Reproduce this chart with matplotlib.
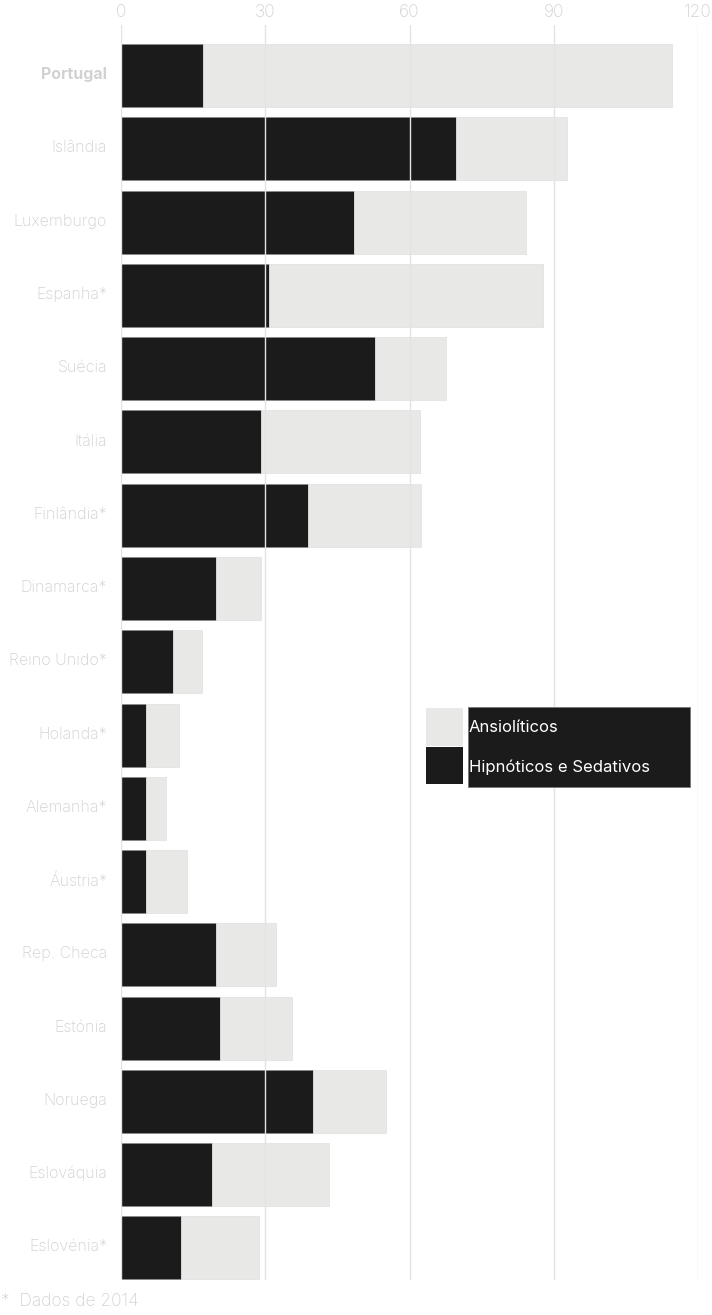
import matplotlib
matplotlib.use("Agg")
import matplotlib.pyplot as plt
from matplotlib.patches import Rectangle
from matplotlib.transforms import ScaledTranslation

countries = ["Portugal", "Islândia", "Luxemburgo", "Espanha*", "Suécia", "Itália",
             "Finlândia*", "Dinamarca*", "Reino Unido*", "Holanda*", "Alemanha*",
             "Áustria*", "Rep. Checa", "Estónia", "Noruega", "Eslováquia", "Eslovénia*"]
hipnoticos = [17.0, 69.6, 48.4, 30.8, 52.8, 29.1, 38.9, 19.8, 10.8, 5.2, 5.2, 5.2,
              19.8, 20.6, 39.9, 18.9, 12.5]
totais = [114.5, 92.7, 84.2, 87.7, 67.6, 62.2, 62.4, 29.1, 16.8, 12.1, 9.4, 13.7,
          32.2, 35.6, 55.1, 43.2, 28.7]
ansioliticos = [t - h for t, h in zip(totais, hipnoticos)]
xticks = [0, 30, 60, 90, 120]
legend_labels = ["Ansiolíticos", "Hipnóticos e Sedativos"]
footnote = "*  Dados de 2014"

BLACK = "#1b1b1b"
GREY = "#e8e8e6"
TXT = "#d2d2d2"
GRID = "#e3e3e3"

plt.rcParams["font.family"] = ["Inter", "DejaVu Sans"]

W, H = 712, 1315
fig = plt.figure(figsize=(W / 100, H / 100), dpi=100)
ax_left, ax_right = 121 / W, 698 / W
ax_top, ax_bot = 1 - 25 / H, 1 - 1280 / H
ax = fig.add_axes([ax_left, ax_bot, ax_right - ax_left, ax_top - ax_bot])

y = list(range(len(countries)))
bh = 0.86
ax.barh(y, hipnoticos, height=bh, color=BLACK, edgecolor="#8a8a8a", linewidth=0.6, zorder=2)
ax.barh(y, ansioliticos, left=hipnoticos, height=bh, color=GREY, edgecolor="#e0e0e0",
        linewidth=0.5, zorder=2)

ax.set_xlim(0, 120)
ax.set_ylim(16.437, -0.689)
for xv in xticks:
    ax.axvline(xv, color=GRID, linewidth=1.0, zorder=3)

ax.xaxis.tick_top()
ax.set_xticks(xticks)
ax.set_xticklabels([str(v) for v in xticks], fontsize=12.5, color=TXT, fontweight="light")
ax.tick_params(axis="x", length=0, pad=3)
ax.set_yticks(y)
ax.set_yticklabels(countries, fontsize=11.5, color=TXT, fontweight="light")
ax.tick_params(axis="y", length=0, pad=10)
shift = ScaledTranslation(0, 2.5 / 100, fig.dpi_scale_trans)
for lab in ax.get_yticklabels():
    lab.set_transform(lab.get_transform() + shift)
    if lab.get_text() == "Portugal":
        lab.set_fontweight("bold")
for s in ax.spines.values():
    s.set_visible(False)

# legend
def fx(px):
    return px / W
def fy(py):
    return 1 - py / H

fig.add_artist(Rectangle((fx(426), fy(746)), fx(37), 38 / H, transform=fig.transFigure,
                         facecolor=GREY, edgecolor="none"))
fig.add_artist(Rectangle((fx(426), fy(784)), fx(37), 37 / H, transform=fig.transFigure,
                         facecolor=BLACK, edgecolor="none"))
fig.add_artist(Rectangle((fx(468), fy(787)), fx(222), 80 / H, transform=fig.transFigure,
                         facecolor=BLACK, edgecolor="#777777", linewidth=0.6))
fig.text(fx(469), fy(728), legend_labels[0], color="white", fontsize=12, va="center", ha="left")
fig.text(fx(469), fy(767), legend_labels[1], color="white", fontsize=12, va="center", ha="left")

fig.text(fx(1), fy(1302), footnote, color=TXT, fontsize=12.5, va="center", ha="left",
         fontweight="light")

fig.savefig("out.png", dpi=100)
